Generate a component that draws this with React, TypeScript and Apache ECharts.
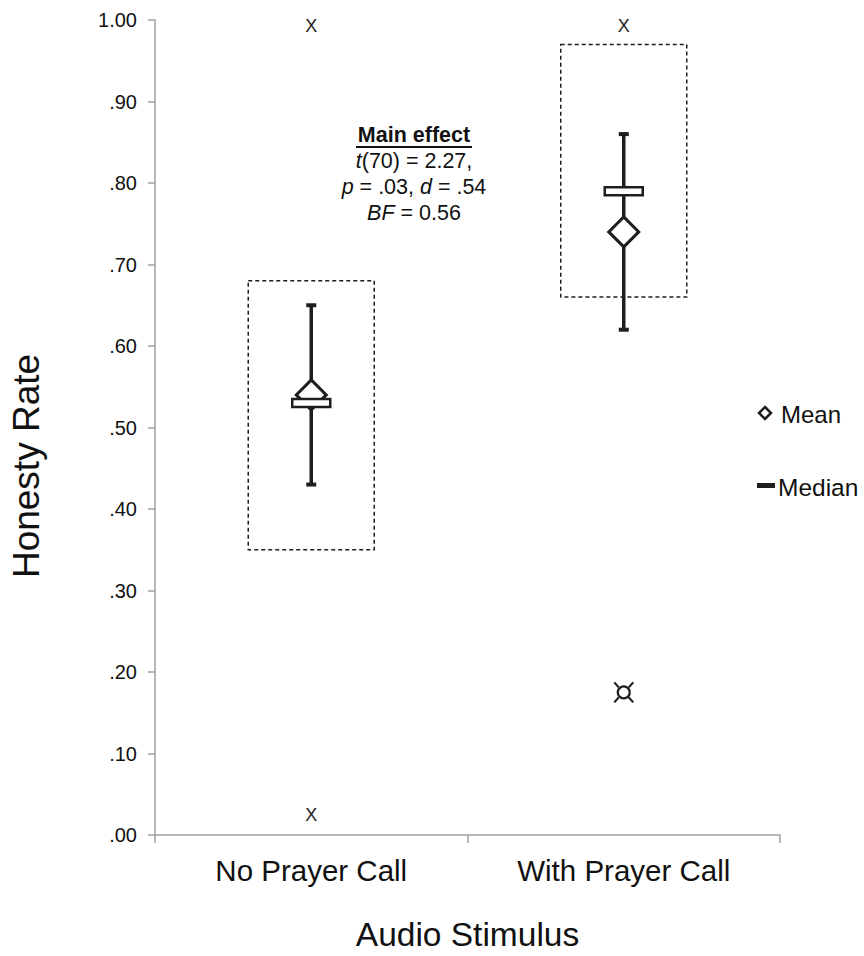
import React, { useEffect, useRef } from "react";
import * as echarts from "echarts";

const categories = ["No Prayer Call", "With Prayer Call"];
const boxLow = [0.35, 0.66];
const boxHigh = [0.68, 0.97];
const whiskerLow = [0.43, 0.62];
const whiskerHigh = [0.65, 0.86];
const means = [0.54, 0.74];
const medians = [0.53, 0.79];
const outlierCats = [0, 0, 1, 1];
const outlierValues = [0.993, 0.025, 0.993, 0.175];
const outlierMarks = ["X", "X", "X", "¤"];
const yAxisTitle = "Honesty Rate";
const xAxisTitle = "Audio Stimulus";

const FONT = "'Liberation Sans', Arial, sans-serif";
const INK = "#1e1e1e";
const AXIS = "#a0a0a0";

function fmtTick(v: number): string {
  if (Math.abs(v - 1) < 1e-9) return "1.00";
  const n = Math.round(v * 100);
  return "." + String(n).padStart(2, "0");
}

export default function App() {
  const ref = useRef<HTMLDivElement>(null);
  useEffect(() => {
    if (!ref.current) return;
    const chart = echarts.init(ref.current, null, { renderer: "svg" });
    const boxData = categories.map((_, i) => [
      i,
      boxLow[i],
      boxHigh[i],
      whiskerLow[i],
      whiskerHigh[i],
      means[i],
      medians[i],
    ]);
    const outData = outlierCats.map((c, i) => [c, outlierValues[i], i]);
    const italic = { i: { fontStyle: "italic", fontSize: 21.5, fontFamily: FONT, fill: "#111" } };
    const option: any = {
      animation: false,
      backgroundColor: "#ffffff",
      textStyle: { fontFamily: FONT },
      grid: { left: 155, right: 84, top: 20, bottom: 113, containLabel: false },
      xAxis: {
        type: "category",
        data: categories,
        boundaryGap: true,
        axisLine: { show: true, lineStyle: { color: AXIS, width: 1.5 } },
        axisTick: { show: true, length: 8, alignWithLabel: false, lineStyle: { color: AXIS, width: 1.5 } },
        axisLabel: { fontSize: 29.5, color: "#111", margin: 20, fontFamily: FONT },
        splitLine: { show: false },
        name: xAxisTitle,
        nameLocation: "middle",
        nameGap: 82,
        nameTextStyle: { fontSize: 33.5, color: "#111", fontFamily: FONT },
      },
      yAxis: {
        type: "value",
        min: 0,
        max: 1,
        interval: 0.1,
        axisLine: { show: true, lineStyle: { color: AXIS, width: 1.5 } },
        axisTick: { show: true, length: 7, lineStyle: { color: AXIS, width: 1.5 } },
        axisLabel: {
          fontSize: 20,
          color: "#111",
          margin: 18,
          fontFamily: FONT,
          formatter: (v: number) => fmtTick(v),
        },
        splitLine: { show: false },
      },
      series: [
        {
          type: "custom",
          name: "summary",
          data: boxData,
          encode: { x: 0, y: [1, 2] },
          renderItem: (params: any, api: any) => {
            const i = api.value(0);
            const [cx, yBL] = api.coord([i, api.value(1)]);
            const yBH = api.coord([i, api.value(2)])[1];
            const yWL = api.coord([i, api.value(3)])[1];
            const yWH = api.coord([i, api.value(4)])[1];
            const yMean = api.coord([i, api.value(5)])[1];
            const yMed = api.coord([i, api.value(6)])[1];
            const d = 15;
            return {
              type: "group",
              children: [
                {
                  type: "rect",
                  shape: { x: cx - 63, y: yBH, width: 126, height: yBL - yBH },
                  style: { fill: "none", stroke: INK, lineWidth: 1.5, lineDash: [4, 3] },
                },
                {
                  type: "line",
                  shape: { x1: cx, y1: yWH, x2: cx, y2: yWL },
                  style: { stroke: INK, lineWidth: 3.5 },
                },
                {
                  type: "line",
                  shape: { x1: cx - 5, y1: yWH, x2: cx + 5, y2: yWH },
                  style: { stroke: INK, lineWidth: 4 },
                },
                {
                  type: "line",
                  shape: { x1: cx - 5, y1: yWL, x2: cx + 5, y2: yWL },
                  style: { stroke: INK, lineWidth: 4 },
                },
                {
                  type: "polygon",
                  shape: {
                    points: [
                      [cx, yMean - d],
                      [cx + d, yMean],
                      [cx, yMean + d],
                      [cx - d, yMean],
                    ],
                  },
                  style: { fill: "#ffffff", stroke: INK, lineWidth: 3 },
                },
                {
                  type: "rect",
                  shape: { x: cx - 19, y: yMed - 4, width: 38, height: 8 },
                  style: { fill: "#ffffff", stroke: INK, lineWidth: 2.5 },
                },
              ],
            };
          },
          z: 2,
        },
        {
          type: "custom",
          name: "outliers",
          data: outData,
          encode: { x: 0, y: 1 },
          renderItem: (params: any, api: any) => {
            const [cx, cy] = api.coord([api.value(0), api.value(1)]);
            const mark = outlierMarks[api.value(2)];
            if (mark === "X") {
              return {
                type: "text",
                style: {
                  text: "X",
                  x: cx,
                  y: cy,
                  align: "center",
                  verticalAlign: "middle",
                  fontSize: 18,
                  fontFamily: FONT,
                  fill: INK,
                },
              };
            }
            const arms = [
              [1, 1],
              [1, -1],
              [-1, 1],
              [-1, -1],
            ].map(([sx, sy]) => ({
              type: "line",
              shape: { x1: cx + sx * 5, y1: cy + sy * 5, x2: cx + sx * 9.5, y2: cy + sy * 10 },
              style: { stroke: INK, lineWidth: 2.2 },
            }));
            return {
              type: "group",
              children: [
                {
                  type: "circle",
                  shape: { cx, cy, r: 6 },
                  style: { fill: "none", stroke: INK, lineWidth: 2.2 },
                },
                ...arms,
              ],
            };
          },
          z: 3,
        },
      ],
      graphic: [
        {
          type: "text",
          x: 26,
          y: 466,
          rotation: Math.PI / 2,
          style: {
            text: yAxisTitle,
            align: "center",
            verticalAlign: "middle",
            fontSize: 37,
            fontFamily: FONT,
            fill: "#111",
          },
        },
        {
          type: "text",
          x: 414,
          y: 135,
          style: {
            text: "Main effect",
            align: "center",
            verticalAlign: "middle",
            fontSize: 21.5,
            fontWeight: "bold",
            fontFamily: FONT,
            fill: "#111",
          },
        },
        {
          type: "line",
          shape: { x1: 356, y1: 147, x2: 472, y2: 147 },
          style: { stroke: "#111", lineWidth: 1.8 },
        },
        {
          type: "text",
          x: 414,
          y: 161,
          style: {
            text: "{i|t}(70) = 2.27,",
            rich: italic,
            align: "center",
            verticalAlign: "middle",
            fontSize: 21.5,
            fontFamily: FONT,
            fill: "#111",
          },
        },
        {
          type: "text",
          x: 414,
          y: 187,
          style: {
            text: "{i|p} = .03, {i|d} = .54",
            rich: italic,
            align: "center",
            verticalAlign: "middle",
            fontSize: 21.5,
            fontFamily: FONT,
            fill: "#111",
          },
        },
        {
          type: "text",
          x: 414,
          y: 213,
          style: {
            text: "{i|BF} = 0.56",
            rich: italic,
            align: "center",
            verticalAlign: "middle",
            fontSize: 21.5,
            fontFamily: FONT,
            fill: "#111",
          },
        },
        {
          type: "polygon",
          shape: {
            points: [
              [765, 407],
              [771, 413],
              [765, 419],
              [759, 413],
            ],
          },
          style: { fill: "#fff", stroke: INK, lineWidth: 2.5 },
        },
        {
          type: "text",
          x: 781,
          y: 414,
          style: {
            text: "Mean",
            align: "left",
            verticalAlign: "middle",
            fontSize: 24,
            fontFamily: FONT,
            fill: "#111",
          },
        },
        {
          type: "rect",
          shape: { x: 757, y: 483, width: 18, height: 5 },
          style: { fill: INK },
        },
        {
          type: "text",
          x: 778,
          y: 487,
          style: {
            text: "Median",
            align: "left",
            verticalAlign: "middle",
            fontSize: 24.5,
            fontFamily: FONT,
            fill: "#111",
          },
        },
      ],
    };
    chart.setOption(option);
    return () => chart.dispose();
  }, []);
  return (
    <div
      ref={ref}
      style={{ position: "fixed", left: 0, top: 0, width: 864, height: 956, background: "#fff" }}
    />
  );
}
